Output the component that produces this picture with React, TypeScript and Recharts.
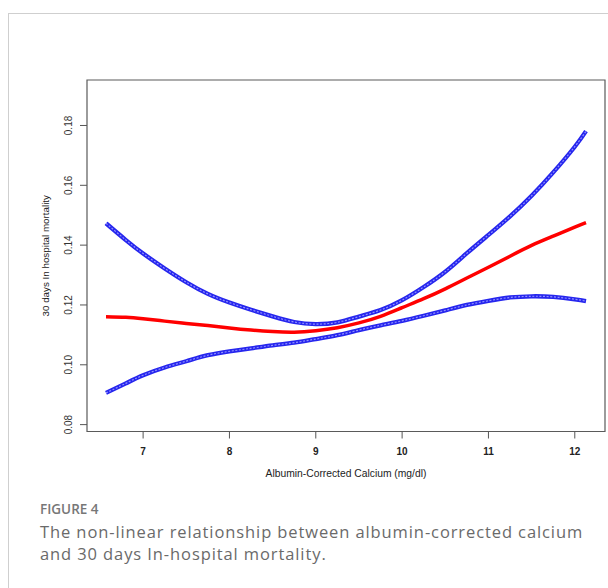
import React from 'react';
import { LineChart, Line, XAxis, YAxis, ReferenceArea } from 'recharts';

const calcium = [6.57, 6.8, 7, 7.25, 7.5, 7.75, 8, 8.25, 8.5, 8.75, 9, 9.25, 9.5, 9.75, 10, 10.25, 10.5, 10.75, 11, 11.25, 11.5, 11.75, 12, 12.13];
const fitValues = [0.1161, 0.1159, 0.1154, 0.1146, 0.1138, 0.1131, 0.1123, 0.1116, 0.1111, 0.1109, 0.1114, 0.1124, 0.114, 0.1162, 0.1191, 0.1221, 0.1254, 0.129, 0.1326, 0.1363, 0.1399, 0.143, 0.146, 0.1475];
const upperValues = [0.1473, 0.1417, 0.1372, 0.1322, 0.1276, 0.1237, 0.1208, 0.1184, 0.1162, 0.1143, 0.1136, 0.1142, 0.1161, 0.1183, 0.1216, 0.126, 0.1311, 0.1373, 0.1434, 0.1496, 0.1565, 0.1643, 0.1729, 0.1781];
const lowerValues = [0.0906, 0.0938, 0.0965, 0.0991, 0.1012, 0.1032, 0.1045, 0.1055, 0.1065, 0.1074, 0.1086, 0.1099, 0.1116, 0.1132, 0.1147, 0.1164, 0.1182, 0.12, 0.1214, 0.1225, 0.1229, 0.1227, 0.1219, 0.1213];

const xTicks = [7, 8, 9, 10, 11, 12];
const yTicks = [0.08, 0.1, 0.12, 0.14, 0.16, 0.18];
const xDomain = [6.35, 12.35];
const yDomain = [0.0777, 0.1952];

const xTitle = 'Albumin-Corrected Calcium (mg/dl)';
const yTitle = '30 days In hospital mortality';
const figLabel = 'FIGURE 4';
const captionText = 'The non-linear relationship between albumin-corrected calcium and 30 days In-hospital mortality.';

const data = calcium.map((x, i) => ({ x, fit: fitValues[i], hi: upperValues[i], lo: lowerValues[i] }));

const AXIS_FONT = 'Arial, "Liberation Sans", Helvetica, sans-serif';

const YTick = (props: any) => {
  const { x, y, payload } = props;
  return (
    <text x={x} y={y} transform={`rotate(-90 ${x} ${y})`} textAnchor="middle" fontSize={10} fontFamily={AXIS_FONT} fill="#333">
      {payload.value.toFixed(2)}
    </text>
  );
};

const XTick = (props: any) => {
  const { x, y, payload } = props;
  return (
    <text x={x} y={y} dy="0.71em" textAnchor="middle" fontSize={10} fontWeight="bold" fontFamily={AXIS_FONT} fill="#222">
      {payload.value}
    </text>
  );
};

const blueLines = (key: string) => [
  <Line key={key + 'a'} dataKey={key} type="natural" stroke="#2626ee" strokeWidth={4.3} dot={false} isAnimationActive={false} />,
  <Line key={key + 'b'} dataKey={key} type="natural" stroke="#9090ff" strokeWidth={1.2} strokeDasharray="2 1.6" dot={false} isAnimationActive={false} />,
];

export default function App() {
  return (
    <div style={{ position: 'absolute', left: 0, top: 0, width: 608, height: 588, background: '#fff', overflow: 'hidden' }}>
      <div style={{ position: 'absolute', left: 8, top: 13, width: 700, height: 700, borderLeft: '1px solid #cfcfcf', borderTop: '1px solid #cfcfcf' }} />
      <div style={{ position: 'absolute', left: 0, top: 0 }}>
        <LineChart width={608} height={500} data={data} margin={{ top: 80, right: 3, bottom: 28.5, left: 37 }}>
          <XAxis
            dataKey="x"
            type="number"
            domain={xDomain}
            ticks={xTicks}
            allowDataOverflow
            axisLine={false}
            tickSize={7}
            tickMargin={9}
            tickLine={{ stroke: '#555' }}
            tick={<XTick />}
            height={40}
            label={(p: any) => {
              const vb = p.viewBox;
              return (
                <text x={vb.x + vb.width / 2} y={vb.y + 45} textAnchor="middle" fontSize={10.3} fontFamily={AXIS_FONT} fill="#222">
                  {xTitle}
                </text>
              );
            }}
          />
          <YAxis
            type="number"
            domain={yDomain}
            ticks={yTicks}
            allowDataOverflow
            axisLine={false}
            tickSize={7}
            tickMargin={8}
            tickLine={{ stroke: '#555' }}
            tick={<YTick />}
            width={50}
            label={(p: any) => {
              const vb = p.viewBox;
              const cx = vb.x + 12;
              const cy = vb.y + vb.height / 2;
              return (
                <text x={cx} y={cy} transform={`rotate(-90 ${cx} ${cy})`} textAnchor="middle" fontSize={9.8} fontFamily={AXIS_FONT} fill="#222">
                  {yTitle}
                </text>
              );
            }}
          />
          <ReferenceArea x1={xDomain[0]} x2={xDomain[1]} y1={yDomain[0]} y2={yDomain[1]} fill="none" stroke="#5a5a5a" strokeWidth={1.2} />
          {blueLines('hi')}
          {blueLines('lo')}
          <Line dataKey="fit" type="natural" stroke="#ff0000" strokeWidth={3.5} dot={false} isAnimationActive={false} />
        </LineChart>
      </div>
      <div style={{ position: 'absolute', left: 40, top: 500, width: 562, fontFamily: '"Open Sans", sans-serif', color: '#6a6a6a' }}>
        <div style={{ fontSize: 13.5, fontWeight: 600, lineHeight: '18px', color: '#777' }}>{figLabel}</div>
        <div style={{ fontSize: 16.5, lineHeight: '22px', marginTop: 3, letterSpacing: 0.9 }}>{captionText}</div>
      </div>
    </div>
  );
}
